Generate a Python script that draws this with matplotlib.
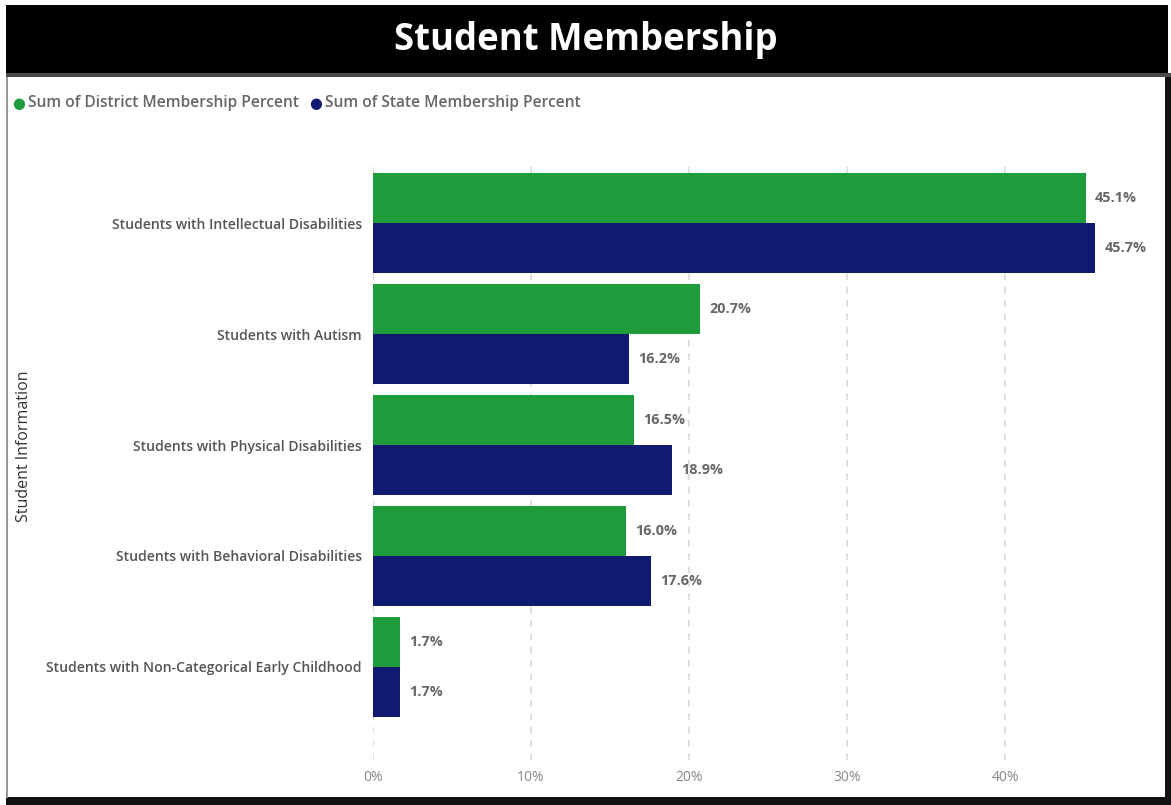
import matplotlib
matplotlib.use("Agg")
import matplotlib.pyplot as plt
from matplotlib.patches import Rectangle
import numpy as np

categories = [
    "Students with Intellectual Disabilities",
    "Students with Autism",
    "Students with Physical Disabilities",
    "Students with Behavioral Disabilities",
    "Students with Non-Categorical Early Childhood",
]
district = [45.1, 20.7, 16.5, 16.0, 1.7]
state = [45.7, 16.2, 18.9, 17.6, 1.7]
xticks = [0, 10, 20, 30, 40]

W, H = 1171, 805
plt.rcParams['font.family'] = ['Open Sans', 'DejaVu Sans']
fig = plt.figure(figsize=(W / 100, H / 100), dpi=100, facecolor='white')

def fx(px):
    return px / W

def fy(py):
    return 1 - py / H

def rect(x0, y0, x1, y1, color, z):
    fig.patches.append(Rectangle((fx(x0), fy(y1)), (x1 - x0) / W, (y1 - y0) / H,
                                 transform=fig.transFigure, color=color, zorder=z, lw=0))

# frames
rect(6, 5, 1168, 73, 'black', -10)
rect(6, 73, 1171, 77, '#4a4a4a', -9)
rect(1165, 77, 1171, 805, '#111111', -9)
rect(6, 797, 1171, 805, '#111111', -9)
rect(6, 77, 8, 798, '#9a9a9a', -9)

fig.text(fx(586), fy(40), "Student Membership", color='white', fontsize=26.3,
         fontweight='bold', ha='center', va='center')

green = '#1E9B3A'
navy = '#101A70'

# legend
fig.text(fx(19), fy(103), "\u25CF", color=green, fontsize=10.5, ha='center', va='center',
         family=['DejaVu Sans'])
fig.text(fx(28), fy(103), "Sum of District Membership Percent", color='#666666',
         fontsize=11.2, ha='left', va='center', fontweight='semibold')
fig.text(fx(316), fy(103), "\u25CF", color=navy, fontsize=10.5, ha='center', va='center',
         family=['DejaVu Sans'])
fig.text(fx(325), fy(103), "Sum of State Membership Percent", color='#666666',
         fontsize=11.2, ha='left', va='center', fontweight='semibold')

# axes
ax_left, ax_right, ax_top, ax_bot = 373, 1160, 160, 760
ax = fig.add_axes([fx(ax_left), fy(ax_bot), (ax_right - ax_left) / W, (ax_bot - ax_top) / H])
ax.patch.set_alpha(0)
x_max = 10 * (ax_right - ax_left) / 158.0
ax.set_xlim(0, x_max)
ax.set_ylim(4.84, -0.57)

y = np.arange(len(categories))
h = 0.45
ax.barh(y - h / 2, district, height=h, color=green, zorder=3)
ax.barh(y + h / 2, state, height=h, color=navy, zorder=3)

for i in range(len(categories)):
    ax.text(district[i] + 0.6, y[i] - h / 2, f"{district[i]:.1f}%", va='center', ha='left',
            color='#666666', fontsize=10.4, fontweight='bold')
    ax.text(state[i] + 0.6, y[i] + h / 2, f"{state[i]:.1f}%", va='center', ha='left',
            color='#666666', fontsize=10.4, fontweight='bold')

ax.set_xticks(xticks)
ax.set_xticklabels([f"{t}%" for t in xticks], color='#888888', fontsize=10)
ax.set_yticks(y)
ax.set_yticklabels(categories, color='#555555', fontsize=10.1, fontweight='semibold')
ax.tick_params(axis='both', length=0)
ax.tick_params(axis='y', pad=8)
ax.tick_params(axis='x', pad=7)
ax.grid(axis='x', color='#d9d9d9', linestyle=(0, (4, 4)), linewidth=1.2, zorder=0)
for s in ax.spines.values():
    s.set_visible(False)

fig.text(fx(24), fy(446), "Student Information", rotation=90, color='#333333',
         fontsize=11.5, ha='center', va='center')

fig.savefig("out.png", dpi=100, facecolor='white')
